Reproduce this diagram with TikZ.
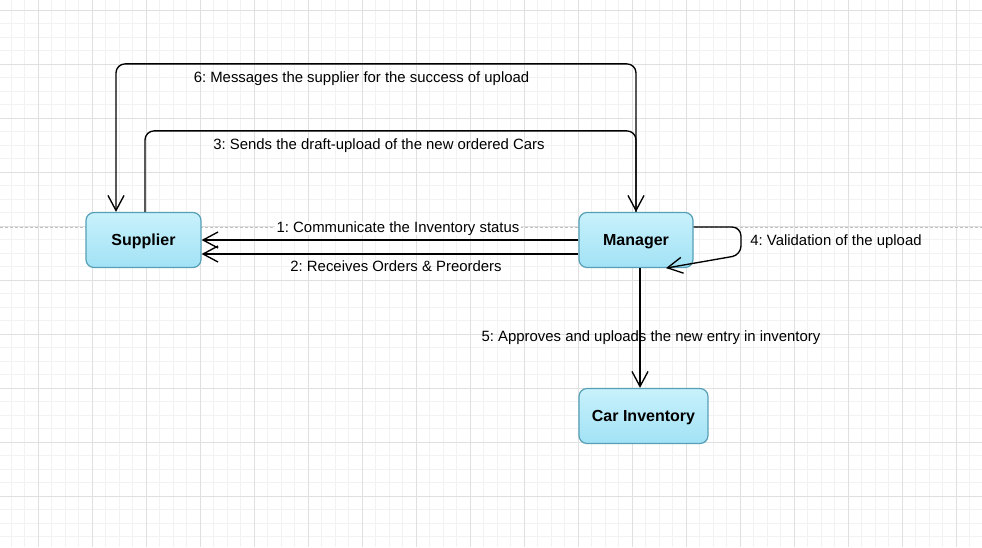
\documentclass[tikz,border=0pt]{standalone}
\usepackage{fontspec}
\setmainfont{Liberation Sans}
\usetikzlibrary{arrows.meta}
\definecolor{boxtop}{HTML}{C8F1FC}
\definecolor{boxbot}{HTML}{A2E2F5}
\definecolor{boxline}{HTML}{579FB6}
\definecolor{gridminor}{HTML}{F2F2F2}
\definecolor{gridmajor}{HTML}{E0E0E0}
\definecolor{pagebreak}{HTML}{C0C0C0}
\frenchspacing
\begin{document}
\begin{tikzpicture}[x=1pt,y=-1pt,
  entity/.style={rounded corners=8pt, draw=boxline, line width=1.2pt, top color=boxtop, bottom color=boxbot, font=\bfseries\fontsize{16}{19}\selectfont, minimum height=55pt, inner sep=0pt, text height=11.5pt, text depth=0pt},
  conn/.style={draw=black, line width=1.35pt, rounded corners=9pt, -{Straight Barb[length=15pt,width=16pt]}},
  lbl/.style={font=\fontsize{14.9}{17}\selectfont, anchor=base, inner sep=0pt},
  minorline/.style={draw=gridminor, line width=0.8pt},
  majorline/.style={draw=gridmajor, line width=0.8pt},
]
\useasboundingbox (0,0) rectangle (982,547);
\fill[white] (0,0) rectangle (982,547);
\foreach \i in {0,...,73} \draw[minorline] ({-2.5+13.5*\i},0) -- ({-2.5+13.5*\i},547);
\foreach \i in {0,...,41} \draw[minorline] (0,{-3.5+13.5*\i}) -- (982,{-3.5+13.5*\i});
\foreach \i in {0,...,17} \draw[majorline] ({38+54*\i},0) -- ({38+54*\i},547);
\foreach \i in {0,...,10} \draw[majorline] (0,{10+54*\i}) -- (982,{10+54*\i});
\draw[pagebreak, dash pattern=on 3pt off 2pt, line width=1pt] (0,227) -- (982,227);

\node[entity, minimum width=115pt] (sup) at (143.5,240) {Supplier};
\node[entity, minimum width=114pt] (man) at (636,240) {Manager};
\node[entity, minimum width=129pt] (inv) at (643.5,416) {Car Inventory};

\coordinate (loopc) at (741,255);

\draw[conn] (man.west) -- (sup.east);
\draw[conn] ([yshift=-14pt]man.west) -- ([yshift=-14pt]sup.east);
\draw[conn] ([xshift=1.5pt]sup.north) -- ++(0,-81) -| (man.north);
\draw[conn] ([yshift=13pt]man.east) -| (loopc) -- ([xshift=30pt]man.south);
\draw[conn] ([xshift=4pt]man.south) -- ([xshift=-3.5pt]inv.north);
\draw[conn] (man.north) -- ++(0,-148) -| ([xshift=-27.5pt]sup.north);

\node[lbl, fill=white, inner xsep=1.5pt] (l1) at (398,232.3) {1: Communicate the Inventory status};
\node[lbl] (l2) at (396,271.7) {2: Receives Orders \& Preorders};
\node[lbl] (l3) at (379,149.3) {3: Sends the draft-upload of the new ordered Cars};
\node[lbl] (l4) at (836,245) {4: Validation of the upload};
\node[lbl] (l5) at (651,341) {5: Approves and uploads the new entry in inventory};
\node[lbl] (l6) at (361.5,82.7) {6: Messages the supplier for the success of upload};
\end{tikzpicture}
\end{document}
